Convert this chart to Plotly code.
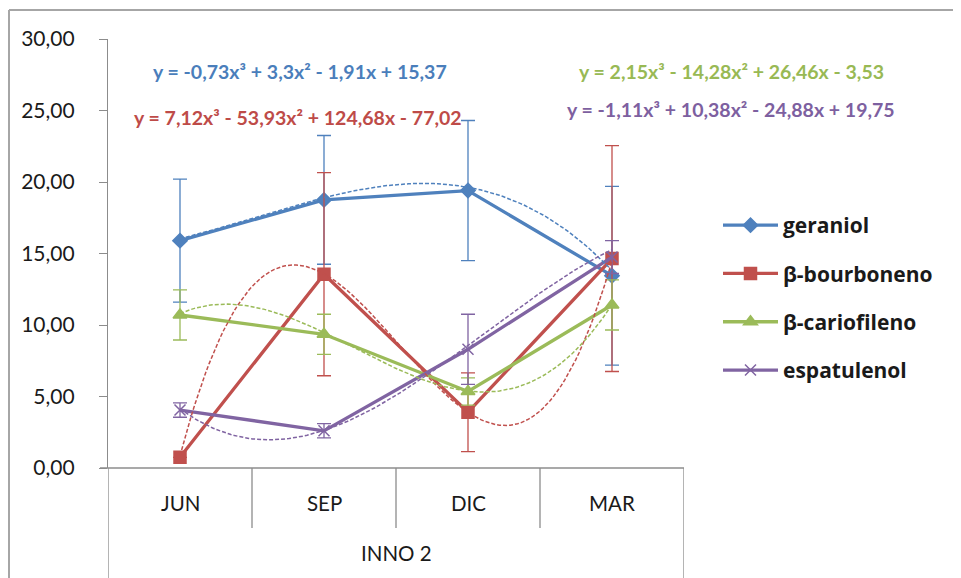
import numpy as np
import plotly.graph_objects as go

months = ["JUN", "SEP", "DIC", "MAR"]
group_label = "INNO 2"
names = ["geraniol", "β-bourboneno", "β-cariofileno", "espatulenol"]

geraniol = [15.9, 18.75, 19.4, 13.45]
bourboneno = [0.75, 13.55, 3.9, 14.65]
cariofileno = [10.7, 9.35, 5.35, 11.4]
espatulenol = [4.05, 2.6, 8.3, 14.75]

geraniol_err = [4.3, 4.5, 4.9, 6.25]
bourboneno_err = [0.0, 7.1, 2.75, 7.9]
cariofileno_err = [1.75, 1.4, 0.95, 1.75]
espatulenol_err = [0.5, 0.5, 2.45, 1.15]

# trendline coefficients shown on the chart (x^3, x^2, x, const)
coef_geraniol = [-0.73, 3.3, -1.91, 15.37]
coef_bourboneno = [7.12, -53.93, 124.68, -77.02]
coef_cariofileno = [2.15, -14.28, 26.46, -3.53]
coef_espatulenol = [-1.11, 10.38, -24.88, 19.75]

eq_texts = [
    "y = -0,73x³ + 3,3x² - 1,91x + 15,37",
    "y = 7,12x³ - 53,93x² + 124,68x - 77,02",
    "y = 2,15x³ - 14,28x² + 26,46x - 3,53",
    "y = -1,11x³ + 10,38x² - 24,88x + 19,75",
]

y_ticks = [0, 5, 10, 15, 20, 25, 30]
y_ticktext = ["0,00", "5,00", "10,00", "15,00", "20,00", "25,00", "30,00"]

colors = ["#4F81BD", "#C0504D", "#9BBB59", "#8064A2"]
symbols = ["diamond", "square", "triangle-up", "x-thin-open"]
msizes = [11, 12, 12, 11]

series = [geraniol, bourboneno, cariofileno, espatulenol]
errs = [geraniol_err, bourboneno_err, cariofileno_err, espatulenol_err]
coefs = [coef_geraniol, coef_bourboneno, coef_cariofileno, coef_espatulenol]

# page geometry (browser body has an 8px margin)
OFF = 8
PL, PR, PT, PB = 108, 684, 39, 468
PW, PH = PR - PL, PB - PT


def fx(px):
    return (px - PL) / PW


def fy(py):
    return (PB - py) / PH


xpos = [1, 2, 3, 4]
fig = go.Figure()

for i in range(4):
    fig.add_trace(go.Scatter(
        x=xpos, y=series[i], mode="lines+markers", name=names[i],
        legendgroup=names[i],
        line=dict(color=colors[i], width=3.3),
        marker=dict(symbol=symbols[i], size=msizes[i], color=colors[i],
                    line=dict(color=colors[i], width=1.5)),
        error_y=dict(type="data", array=errs[i], visible=True,
                     color=colors[i], thickness=1.3, width=7),
    ))

xs = np.linspace(1, 4, 120)
for i in range(4):
    ys = np.polyval(coefs[i], xs)
    fig.add_trace(go.Scatter(
        x=xs, y=ys, mode="lines", showlegend=False, hoverinfo="skip",
        line=dict(color=colors[i], width=1.5, dash="4px,2px"),
    ))

ann = []
eq_pos = [(300, 72), (298, 118), (731, 72), (731, 110)]
eq_colors = ["#4A7EBB", "#BE4B48", "#98B954", "#7D60A0"]
for t, (px, py), c in zip(eq_texts, eq_pos, eq_colors):
    ann.append(dict(x=fx(px), y=fy(py), xref="paper", yref="paper",
                    text="<b>" + t + "</b>", showarrow=False,
                    font=dict(family="Lato", size=19.5, color=c),
                    xanchor="center", yanchor="middle"))

for j, m in enumerate(months):
    ann.append(dict(x=xpos[j], y=fy(503), xref="x", yref="paper",
                    text=m, showarrow=False,
                    font=dict(family="Lato", size=20.5, color="#1a1a1a"),
                    xanchor="center", yanchor="middle"))
ann.append(dict(x=2.5, y=fy(553), xref="x", yref="paper",
                text=group_label, showarrow=False,
                font=dict(family="Lato", size=20.5, color="#1a1a1a"),
                xanchor="center", yanchor="middle"))

gray = "#8C8C8C"
shapes = []
for xv in [1.5, 2.5, 3.5]:
    shapes.append(dict(type="line", xref="x", yref="paper", x0=xv, x1=xv,
                       y0=0, y1=fy(528), line=dict(color=gray, width=1.3)))
for xv in [0.5, 4.5]:
    shapes.append(dict(type="line", xref="x", yref="paper", x0=xv, x1=xv,
                       y0=0, y1=fy(590), line=dict(color=gray, width=1.3)))
shapes.append(dict(type="line", xref="paper", yref="paper", x0=fx(100), x1=1,
                   y0=0, y1=0, line=dict(color=gray, width=1.3)))
# chart border
shapes.append(dict(type="line", xref="paper", yref="paper", x0=fx(9), x1=fx(9),
                   y0=fy(10), y1=fy(600), line=dict(color="#A6A6A6", width=2)))
shapes.append(dict(type="line", xref="paper", yref="paper", x0=fx(9), x1=fx(980),
                   y0=fy(10), y1=fy(10), line=dict(color="#A6A6A6", width=2)))

fig.update_layout(
    width=961 - OFF, height=578 - OFF,
    margin=dict(l=PL - OFF, r=961 - PR, t=PT - OFF, b=578 - PB),
    paper_bgcolor="white", plot_bgcolor="white",
    showlegend=True,
    legend=dict(x=fx(718), y=fy(205), xanchor="left", yanchor="top",
                font=dict(family="Open Sans", size=21, color="#1a1a1a", weight="bold"),
                tracegroupgap=18, itemwidth=55, bgcolor="rgba(0,0,0,0)"),
    xaxis=dict(range=[0.5, 4.5], showticklabels=False, showgrid=False, zeroline=False,
               showline=False, ticks=""),
    yaxis=dict(range=[0, 30], tickvals=y_ticks, ticktext=y_ticktext, showgrid=False,
               zeroline=False, showline=True, linecolor=gray, linewidth=1.3,
               ticks="outside", ticklen=8, tickcolor=gray, tickwidth=1.3,
               ticklabelstandoff=20,
               tickfont=dict(family="Lato", size=21, color="#1a1a1a")),
    annotations=ann, shapes=shapes,
)

fig.write_html("out.html")
